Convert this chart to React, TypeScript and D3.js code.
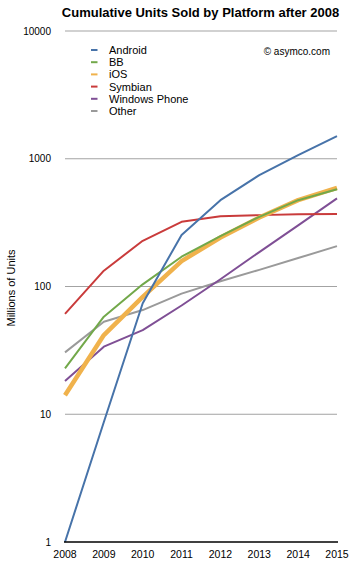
import React from "react";
import * as d3 from "d3";

const years = [2008, 2009, 2010, 2011, 2012, 2013, 2014, 2015];
const android = [1, 8.7, 74, 253, 474, 744, 1067, 1503];
const bb = [22.9, 58, 104, 171, 248, 351, 474, 578];
const ios = [14.1, 41.7, 83, 158, 242, 347, 474, 592];
const symbian = [61, 133, 228, 321, 354, 362, 367, 369];
const windowsPhone = [18.2, 33.8, 45.6, 71, 114, 186, 301, 489];
const other = [30.5, 53, 65.4, 88, 110, 135, 167, 207];
const yTicks = [1, 10, 100, 1000, 10000];

const seriesNames = ["Android", "BB", "iOS", "Symbian", "Windows Phone", "Other"];
const seriesValues = [android, bb, ios, symbian, windowsPhone, other];
const seriesColors = ["#4773a9", "#72a84a", "#f0b24c", "#c93b3b", "#7f4f95", "#9a9a9a"];
const seriesWidths = [2, 2, 4.5, 2, 2, 2];
const drawOrder = [5, 4, 3, 2, 1, 0];

const FONT = "Liberation Sans, Arial, Helvetica, sans-serif";

export default function App() {
  const x = d3.scaleLinear().domain([2008, 2015]).range([65, 337]);
  const y = d3.scaleLog().domain([1, 10000]).range([542, 31]);
  const line = d3
    .line<[number, number]>()
    .x((d) => x(d[0]))
    .y((d) => y(d[1]));

  return (
    <svg
      width={357}
      height={564}
      style={{ position: "absolute", left: 0, top: 0, background: "#fff" }}
      fontFamily={FONT}
    >
      <rect x={0} y={0} width={357} height={564} fill="#fff" />
      <text x={200.5} y={17} textAnchor="middle" fontSize={13} fontWeight="bold" fill="#000">
        Cumulative Units Sold by Platform after 2008
      </text>
      {yTicks.map((t) => (
        <g key={t}>
          {t !== 1 && (
            <line x1={65} x2={337} y1={y(t)} y2={y(t)} stroke="#a3a3a3" strokeWidth={1} />
          )}
          <text x={51} y={y(t) + 3.5} textAnchor="end" fontSize={10} fill="#000">
            {t}
          </text>
        </g>
      ))}
      <text
        transform={`translate(14.5,${288}) rotate(-90)`}
        textAnchor="middle"
        fontSize={11}
        fill="#000"
      >
        Millions of Units
      </text>
      {drawOrder.map((i) => (
        <path
          key={seriesNames[i]}
          d={line(years.map((yr, j) => [yr, seriesValues[i][j]]) as [number, number][]) || ""}
          fill="none"
          stroke={seriesColors[i]}
          strokeWidth={seriesWidths[i]}
          strokeLinejoin="round"
        />
      ))}
      <line x1={64} x2={338} y1={542} y2={542} stroke="#000" strokeWidth={1.5} />
      {years.map((yr) => (
        <text key={yr} x={x(yr)} y={558} textAnchor="middle" fontSize={10.5} fill="#000">
          {yr}
        </text>
      ))}
      {seriesNames.map((n, i) => (
        <g key={n}>
          <line
            x1={91}
            x2={97.5}
            y1={50 + i * 12.2}
            y2={50 + i * 12.2}
            stroke={seriesColors[i]}
            strokeWidth={2}
          />
          <text x={109} y={50 + i * 12.2 + 4} fontSize={11} fill="#000">
            {n}
          </text>
        </g>
      ))}
      <text x={330} y={54.5} textAnchor="end" fontSize={10} fill="#000">
        © asymco.com
      </text>
    </svg>
  );
}
